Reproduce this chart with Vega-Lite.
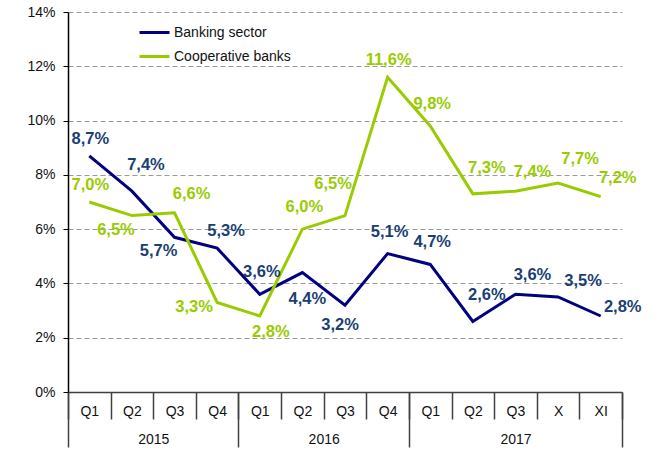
{
  "$schema": "https://vega.github.io/schema/vega-lite/v6.json",
  "width": 554,
  "height": 380,
  "autosize": "none",
  "padding": {"left": 68, "top": 12, "right": 37, "bottom": 58},
  "config": {
    "view": {"stroke": null},
    "font": "Liberation Sans",
    "locale": {"number": {"decimal": ",", "thousands": " ", "grouping": [3], "currency": ["", ""]}},
    "axis": {"labelFont": "Liberation Sans", "labelFontSize": 14, "labelColor": "#111111"},
    "text": {"font": "Liberation Sans", "fontSize": 16.5, "fontWeight": "bold", "baseline": "middle", "align": "center"}
  },
  "data": {
    "values": [
      {"series": "Banking sector", "period": "2015 Q1", "value": 0.087},
      {"series": "Banking sector", "period": "2015 Q2", "value": 0.074},
      {"series": "Banking sector", "period": "2015 Q3", "value": 0.057},
      {"series": "Banking sector", "period": "2015 Q4", "value": 0.053},
      {"series": "Banking sector", "period": "2016 Q1", "value": 0.036},
      {"series": "Banking sector", "period": "2016 Q2", "value": 0.044},
      {"series": "Banking sector", "period": "2016 Q3", "value": 0.032},
      {"series": "Banking sector", "period": "2016 Q4", "value": 0.051},
      {"series": "Banking sector", "period": "2017 Q1", "value": 0.047},
      {"series": "Banking sector", "period": "2017 Q2", "value": 0.026},
      {"series": "Banking sector", "period": "2017 Q3", "value": 0.036},
      {"series": "Banking sector", "period": "2017 X", "value": 0.035},
      {"series": "Banking sector", "period": "2017 XI", "value": 0.028},
      {"series": "Cooperative banks", "period": "2015 Q1", "value": 0.070},
      {"series": "Cooperative banks", "period": "2015 Q2", "value": 0.065},
      {"series": "Cooperative banks", "period": "2015 Q3", "value": 0.066},
      {"series": "Cooperative banks", "period": "2015 Q4", "value": 0.033},
      {"series": "Cooperative banks", "period": "2016 Q1", "value": 0.028},
      {"series": "Cooperative banks", "period": "2016 Q2", "value": 0.060},
      {"series": "Cooperative banks", "period": "2016 Q3", "value": 0.065},
      {"series": "Cooperative banks", "period": "2016 Q4", "value": 0.116},
      {"series": "Cooperative banks", "period": "2017 Q1", "value": 0.098},
      {"series": "Cooperative banks", "period": "2017 Q2", "value": 0.073},
      {"series": "Cooperative banks", "period": "2017 Q3", "value": 0.074},
      {"series": "Cooperative banks", "period": "2017 X", "value": 0.077},
      {"series": "Cooperative banks", "period": "2017 XI", "value": 0.072}
    ]
  },
  "transform": [{"calculate": "substring(datum.series, 0, 1) + '|' + datum.period", "as": "k"}],
  "encoding": {
    "x": {"field": "period", "type": "ordinal", "sort": null, "bandPosition": 0.5,
          "scale": {"type": "band", "paddingInner": 0, "paddingOuter": 0}, "axis": null},
    "y": {"field": "value", "type": "quantitative",
          "scale": {"domain": [0, 0.14], "nice": false, "zero": true},
          "axis": {"title": null, "values": [0, 0.02, 0.04, 0.06, 0.08, 0.1, 0.12, 0.14], "format": ".0%",
                   "domainColor": "#000000", "domainWidth": 1.5, "tickColor": "#000000", "tickWidth": 1, "tickSize": 5,
                   "labelPadding": 8, "grid": true, "gridColor": "#9a9a9a", "gridDash": [5, 3], "gridWidth": 1,
                   "gridOpacity": {"condition": {"test": "datum.value == 0", "value": 0}, "value": 1}}}
  },
  "layer": [
    {
      "mark": {"type": "line", "strokeWidth": 3},
      "encoding": {
        "x": {"field": "period", "type": "ordinal", "sort": null, "bandPosition": 0.5,
              "scale": {"type": "band", "paddingInner": 0, "paddingOuter": 0},
              "axis": {"title": null, "orient": "bottom", "labelExpr": "split(datum.value, ' ')[1]", "labelAngle": 0,
                       "tickBand": "extent", "tickSize": 27, "tickColor": "#404040", "tickWidth": 1.5,
                       "domainColor": "#404040", "domainWidth": 1.5, "labelBaseline": "middle", "labelPadding": -8, "grid": false}},
        "color": {"field": "series", "type": "nominal",
                  "scale": {"domain": ["Banking sector", "Cooperative banks"], "range": ["#000080", "#99CC00"]},
                  "legend": {"orient": "none", "legendX": 70, "legendY": 4, "title": null, "symbolType": "stroke",
                             "symbolSize": 900, "symbolStrokeWidth": 3, "labelFontSize": 14, "labelFont": "Liberation Sans",
                             "labelColor": "#111111", "rowPadding": -2, "labelOffset": 3, "padding": 0}}
      }
    },
    {
      "mark": {"type": "point", "opacity": 0},
      "encoding": {
        "x": {"field": "period", "type": "ordinal", "sort": null, "bandPosition": 0.5,
              "scale": {"type": "band", "paddingInner": 0, "paddingOuter": 0},
              "axis": {"title": null, "orient": "bottom", "domain": false, "grid": false, "labelAngle": 0,
                       "labelExpr": "datum.value == '2015 Q2' ? '2015' : datum.value == '2016 Q2' ? '2016' : datum.value == '2017 Q3' ? '2017' : ''",
                       "labelOffset": {"condition": {"test": "datum.value == '2015 Q2' || datum.value == '2016 Q2'", "value": 21.3}, "value": 0},
                       "tickBand": "extent", "tickSize": 55, "tickWidth": 1.5,
                       "tickColor": {"condition": {"test": "!datum.value || indexof(['2015 Q4', '2016 Q4', '2017 XI'], datum.value) >= 0", "value": "#404040"}, "value": "transparent"},
                       "labelBaseline": "middle", "labelPadding": -8}}
      }
    },
    {
      "encoding": {
        "text": {"field": "value", "type": "quantitative", "format": ".1%"},
        "color": {"condition": {"test": "datum.series == 'Banking sector'", "value": "#1B3F73"}, "value": "#99CC00"}
      },
      "layer": [
        {"transform": [{"filter": {"field": "k", "oneOf": ["B|2015 Q1", "C|2015 Q1", "C|2016 Q4"]}}], "mark": {"type": "text", "dx": 1, "dy": -17}},
        {"transform": [{"filter": {"field": "k", "oneOf": ["B|2016 Q1", "C|2016 Q2", "B|2016 Q4", "B|2017 Q1", "C|2017 Q1"]}}], "mark": {"type": "text", "dx": 2, "dy": -22}},
        {"transform": [{"filter": {"field": "k", "oneOf": ["B|2015 Q2", "B|2017 Q2", "C|2017 Q2"]}}], "mark": {"type": "text", "dx": 14, "dy": -26}},
        {"transform": [{"filter": {"field": "k", "oneOf": ["C|2015 Q3", "C|2017 Q3", "C|2017 XI", "B|2017 Q3"]}}], "mark": {"type": "text", "dx": 17, "dy": -19}},
        {"transform": [{"filter": {"field": "k", "oneOf": ["C|2017 X"]}}], "mark": {"type": "text", "dx": 22, "dy": -24}},
        {"transform": [{"filter": {"field": "k", "oneOf": ["B|2017 X"]}}], "mark": {"type": "text", "dx": 25, "dy": -16}},
        {"transform": [{"filter": {"field": "k", "oneOf": ["B|2017 XI"]}}], "mark": {"type": "text", "dx": 22, "dy": -9}},
        {"transform": [{"filter": {"field": "k", "oneOf": ["B|2015 Q4"]}}], "mark": {"type": "text", "dx": 9, "dy": -17}},
        {"transform": [{"filter": {"field": "k", "oneOf": ["B|2016 Q2"]}}], "mark": {"type": "text", "dx": 5, "dy": 26}},
        {"transform": [{"filter": {"field": "k", "oneOf": ["B|2016 Q3"]}}], "mark": {"type": "text", "dx": -5, "dy": 20}},
        {"transform": [{"filter": {"field": "k", "oneOf": ["C|2016 Q1"]}}], "mark": {"type": "text", "dx": 11, "dy": 16}},
        {"transform": [{"filter": {"field": "k", "oneOf": ["B|2015 Q3", "C|2015 Q2"]}}], "mark": {"type": "text", "dx": -16, "dy": 14}},
        {"transform": [{"filter": {"field": "k", "oneOf": ["C|2015 Q4"]}}], "mark": {"type": "text", "dx": -23, "dy": 5}},
        {"transform": [{"filter": {"field": "k", "oneOf": ["C|2016 Q3"]}}], "mark": {"type": "text", "dx": -12, "dy": -32}}
      ]
    }
  ],
  "resolve": {"axis": {"x": "independent"}}
}
